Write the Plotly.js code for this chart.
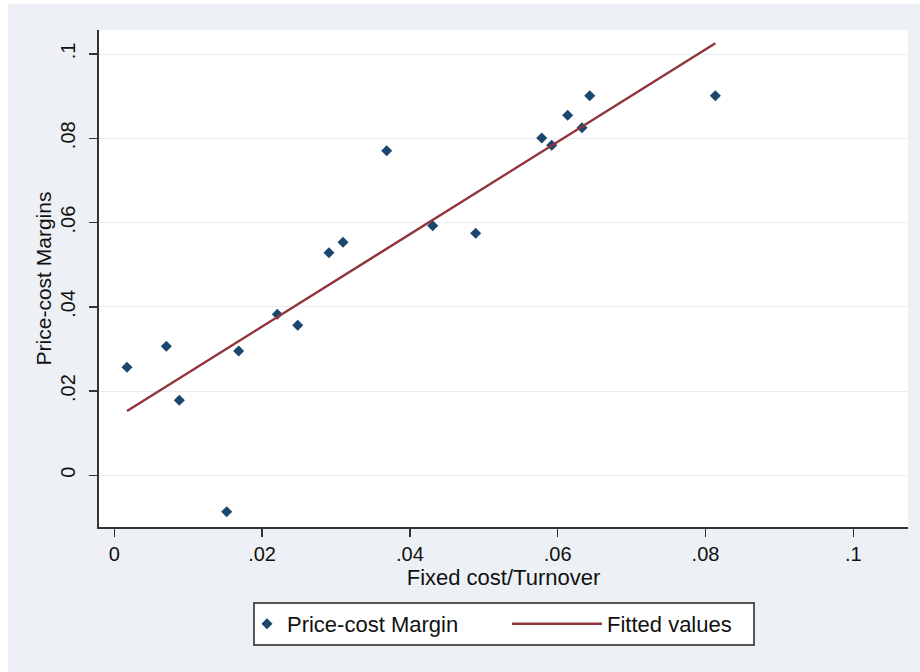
<!DOCTYPE html>
<html>
<head>
<meta charset="utf-8">
<script src="https://cdn.plot.ly/plotly-3.0.1.min.js"></script>
<style>
  html, body { margin: 0; padding: 0; background: #ffffff; }
  #chart { position: absolute; left: 8px; top: 4px; width: 912px; height: 668px; }
</style>
</head>
<body>
<div id="chart"></div>
<script>
// Observed data: Fixed cost/Turnover (x) vs Price-cost Margin (y)
var fixedCostTurnover = [0.00172, 0.00704, 0.00880, 0.01521, 0.01683, 0.02206, 0.02482, 0.02905, 0.03095,
                         0.03686, 0.04309, 0.04890, 0.05784, 0.05919, 0.06135, 0.06329, 0.06433, 0.08133];
var priceCostMargin   = [0.02563, 0.03062, 0.01780, -0.00864, 0.02950, 0.03822, 0.03560, 0.05284, 0.05530,
                         0.07705, 0.05924, 0.05744, 0.08006, 0.07833, 0.08545, 0.08251, 0.09010, 0.09010];
// Fitted values line (endpoints)
var fittedX = [0.00172, 0.08133];
var fittedY = [0.01526, 0.10254];

// Tick values and labels
var xTickVals = [0, 0.02, 0.04, 0.06, 0.08, 0.1];
var xTickText = ['0', '.02', '.04', '.06', '.08', '.1'];
var yTickVals = [0, 0.02, 0.04, 0.06, 0.08, 0.1];
var yTickText = ['0', '.02', '.04', '.06', '.08', '.1'];

var seriesNames = ['Price-cost Margin', 'Fitted values'];
var axisTitles = { x: 'Fixed cost/Turnover', y: 'Price-cost Margins' };

var FONT = 'Arial, "Liberation Sans", sans-serif';

var traces = [
  {
    x: fixedCostTurnover, y: priceCostMargin,
    type: 'scatter', mode: 'markers', name: seriesNames[0],
    marker: { symbol: 'diamond', size: 8.5, color: '#1a476f' },
    legend: 'legend'
  },
  {
    x: fittedX, y: fittedY,
    type: 'scatter', mode: 'lines', name: seriesNames[1],
    line: { color: '#90353b', width: 2.5 },
    legend: 'legend2'
  }
];

var layout = {
  width: 912, height: 668,
  margin: { l: 91, r: 12, t: 26, b: 145 },
  paper_bgcolor: '#edf1f6',
  plot_bgcolor: '#ffffff',
  font: { family: FONT, color: '#111111', size: 20 },
  xaxis: {
    range: [-0.00207, 0.1074],
    tickvals: xTickVals, ticktext: xTickText,
    showgrid: false, zeroline: false,
    showline: true, linecolor: '#333333', linewidth: 2,
    ticks: 'outside', ticklen: 8, tickwidth: 1.5, tickcolor: '#333333',
    ticklabelstandoff: 0,
    tickfont: { size: 20, family: FONT, color: '#111111' },
    title: { text: axisTitles.x, font: { size: 22, family: FONT, color: '#111111' }, standoff: 4 },
    automargin: false
  },
  yaxis: {
    range: [-0.01227, 0.1057],
    tickvals: yTickVals, ticktext: yTickText,
    tickangle: -90,
    showgrid: true, gridcolor: '#e6edf3', gridwidth: 1,
    zeroline: false,
    showline: true, linecolor: '#333333', linewidth: 2,
    ticks: 'outside', ticklen: 8, tickwidth: 1.5, tickcolor: '#333333',
    ticklabelstandoff: 6,
    tickfont: { size: 20, family: FONT, color: '#111111' },
    title: { text: axisTitles.y, font: { size: 21, family: FONT, color: '#111111' }, standoff: 0 },
    automargin: false
  },
  showlegend: true,
  legend: {
    orientation: 'h', x: 0.1829, xanchor: 'left', y: -0.1952, yanchor: 'middle',
    bgcolor: 'rgba(0,0,0,0)', borderwidth: 0, itemwidth: 30,
    font: { size: 22, family: FONT, color: '#111111' }
  },
  legend2: {
    orientation: 'h', x: (499 - 91) / 809, xanchor: 'left', y: -0.1952, yanchor: 'middle',
    bgcolor: 'rgba(0,0,0,0)', borderwidth: 0, itemwidth: 90,
    font: { size: 22, family: FONT, color: '#111111' }
  },
  shapes: [
    {
      type: 'rect', xref: 'paper', yref: 'paper', layer: 'below',
      x0: 0.19159, x1: 0.80964, y0: -0.23741, y1: -0.15291,
      line: { color: '#222222', width: 1.5 }, fillcolor: '#ffffff'
    }
  ]
};

Plotly.newPlot('chart', traces, layout, { displayModeBar: false, staticPlot: true });
</script>
</body>
</html>
